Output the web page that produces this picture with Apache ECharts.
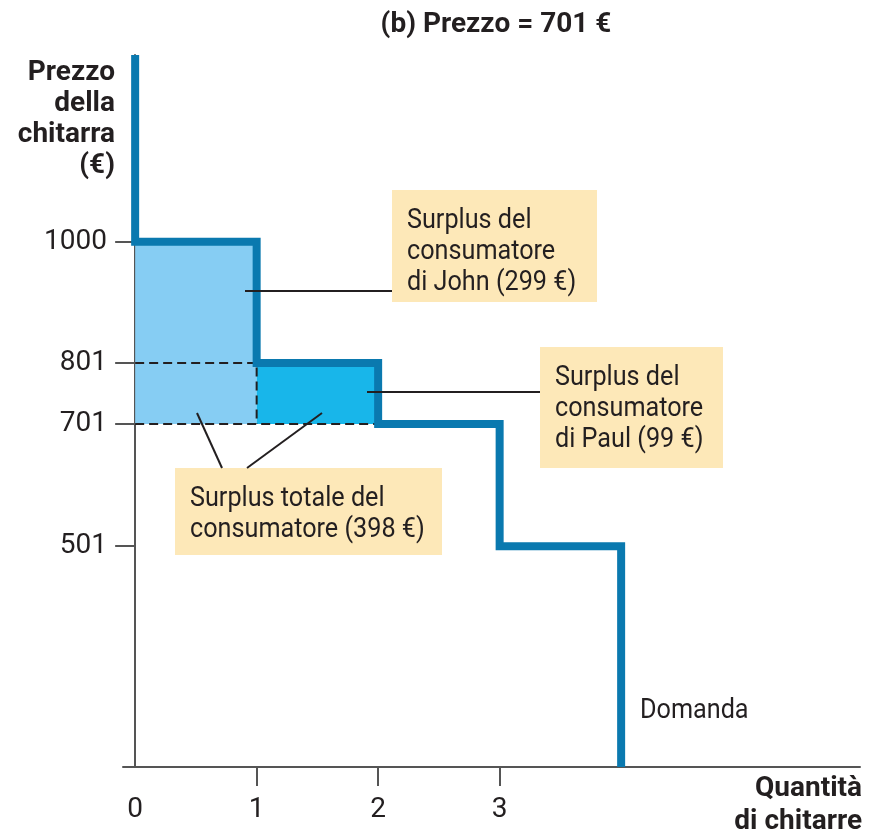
<!DOCTYPE html>
<html>
<head>
<meta charset="utf-8">
<script src="https://cdn.jsdelivr.net/npm/echarts@6/dist/echarts.min.js"></script>
<style>
  html, body { margin: 0; background: #fff; }
  #chart { width: 878px; height: 838px; }
</style>
</head>
<body>
<div id="chart"></div>
<script>
const FONT = 'Roboto, "Liberation Sans", sans-serif';

// tick values / labels
const priceTicks = [1000, 801, 701, 501];
const quantityTicks = [1, 2, 3];
const quantityLabels = [0, 1, 2, 3];

// demand schedule as a step path [quantity, price]
const demandPath = [
  [0, 1306], [0, 1000], [1, 1000], [1, 801], [2, 801],
  [2, 701], [3, 701], [3, 501], [4, 501], [4, 139]
];
const price = 701;
const johnValue = 1000;
const paulValue = 801;

const blue = "#0a79af";
const ink = "#231f20";
const boxFill = "#fde8b8";
const SQUEEZE = 0.9; // fake a condensed face

const chart = echarts.init(document.getElementById("chart"));

function note(x, y, w, h, lines) {
  return {
    type: "group", x: x, y: y, z: 50,
    children: [
      { type: "rect", shape: { x: 0, y: 0, width: w, height: h }, style: { fill: boxFill } },
      {
        type: "text", x: 15, y: 15, scaleX: SQUEEZE,
        style: { text: lines.join("\n"), font: "28px " + FONT, fill: ink, lineHeight: 31 }
      }
    ]
  };
}

function leader(x1, y1, x2, y2) {
  return {
    type: "line", z: 40,
    shape: { x1: x1, y1: y1, x2: x2, y2: y2 },
    style: { stroke: ink, lineWidth: 2 }
  };
}

chart.setOption({
  animation: false,
  grid: { left: 123, right: 18, top: 55, bottom: 71 },
  xAxis: {
    type: "value", min: -0.1, max: 5.966,
    axisLine: { onZero: false, lineStyle: { color: "#555", width: 2 } },
    axisTick: { customValues: quantityTicks, length: 19, lineStyle: { color: "#555", width: 2 } },
    axisLabel: {
      customValues: quantityLabels, margin: 29, color: ink, fontSize: 28, fontFamily: FONT,
      formatter: v => String(v)
    },
    splitLine: { show: false }
  },
  yAxis: {
    type: "value", min: 139, max: 1306,
    axisLine: { show: true, onZero: true, lineStyle: { color: "#555", width: 2 } },
    axisTick: { show: true, customValues: priceTicks, length: 20, lineStyle: { color: "#555", width: 2 } },
    axisLabel: {
      customValues: priceTicks, margin: 16, color: ink, fontSize: 28, fontFamily: FONT,
      formatter: v => String(v)
    },
    splitLine: { show: false }
  },
  series: [
    {
      type: "line", data: [], silent: true,
      markArea: {
        silent: true,
        data: [
          [{ coord: [0, price], itemStyle: { color: "#86cdf3" } }, { coord: [1, johnValue] }],
          [{ coord: [1, price], itemStyle: { color: "#18b6ea" } }, { coord: [2, paulValue] }]
        ]
      }
    },
    {
      type: "line", symbol: "none", z: 5,
      data: [[0, paulValue], [1, paulValue], [1, price]],
      lineStyle: { color: ink, width: 2, type: [9, 5] }
    },
    {
      type: "line", symbol: "none", z: 5,
      data: [[0, price], [2, price]],
      lineStyle: { color: ink, width: 2, type: [9, 5] }
    },
    {
      type: "line", symbol: "none", z: 10,
      data: demandPath,
      lineStyle: { color: blue, width: 8, join: "miter", cap: "butt" }
    }
  ],
  graphic: [
    {
      type: "text", x: 496, y: 25,
      style: { text: "(b) Prezzo = 701 €", font: "bold 28px " + FONT, fill: ink, align: "center", verticalAlign: "middle" }
    },
    {
      type: "text", x: 115, y: 57,
      style: { text: "Prezzo\ndella\nchitarra\n(€)", font: "bold 28px " + FONT, fill: ink, align: "right", lineHeight: 31 }
    },
    {
      type: "text", x: 862, y: 772,
      style: { text: "Quantità\ndi chitarre", font: "bold 28px " + FONT, fill: ink, align: "right", lineHeight: 33 }
    },
    {
      type: "text", x: 640, y: 697, scaleX: SQUEEZE,
      style: { text: "Domanda", font: "28px " + FONT, fill: ink }
    },
    leader(245, 291, 392, 291),
    leader(367, 392, 540, 392),
    leader(197, 413, 222, 468),
    leader(322, 413, 247, 468),
    note(392, 190, 205, 112, ["Surplus del", "consumatore", "di John (299 €)"]),
    note(540, 347, 183, 121, ["Surplus del", "consumatore", "di Paul (99 €)"]),
    note(175, 468, 267, 87, ["Surplus totale del", "consumatore (398 €)"])
  ]
});
</script>
</body>
</html>
